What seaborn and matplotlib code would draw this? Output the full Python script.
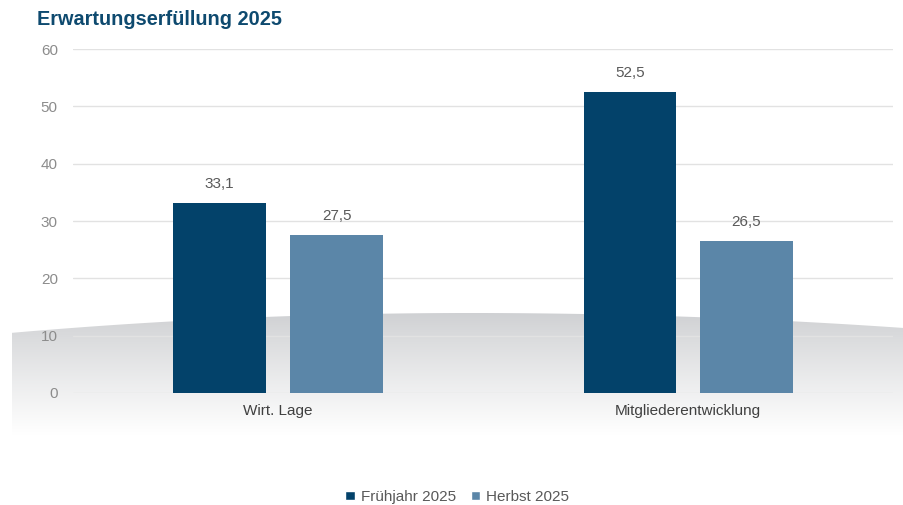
import numpy as np
import pandas as pd
import seaborn as sns
import matplotlib.pyplot as plt
from matplotlib.patches import Polygon, Patch

# data
categories = ["Wirt. Lage", "Mitgliederentwicklung"]
series = ["Frühjahr 2025", "Herbst 2025"]
fruehjahr = [33.1, 52.5]
herbst = [27.5, 26.5]
colors = ["#03426A", "#5B86A8"]

df = pd.DataFrame({
    "Kategorie": categories * 2,
    "Reihe": [series[0]] * 2 + [series[1]] * 2,
    "Wert": fruehjahr + herbst,
})

sns.set_theme(style="white")
plt.rcParams["font.family"] = ["Liberation Sans", "DejaVu Sans"]

fig = plt.figure(figsize=(9.04, 5.05), dpi=100)

# decorative grey swoosh in the background (pixel coordinates)
bg = fig.add_axes([0, 0, 1, 1], zorder=-1)
bg.set_xlim(0, 904)
bg.set_ylim(505, 0)
bg.axis("off")
grad = np.linspace(0, 1, 256).reshape(-1, 1)
top_c = np.array([0.81, 0.815, 0.825])
bot_c = np.array([1.0, 1.0, 1.0])
img = top_c + (bot_c - top_c) * grad[..., None] ** 0.9
im = bg.imshow(img, extent=[12, 904, 435, 312], aspect="auto")
xs = np.linspace(12, 904, 80)
ys = 313 + 20 * ((xs - 470) / 460) ** 2
ys = np.where(xs > 470, 313 + 15 * ((xs - 470) / 434) ** 2, ys)
poly = Polygon(np.column_stack([np.r_[xs, 904, 12], np.r_[ys, 435, 435]]),
               closed=True, transform=bg.transData)
im.set_clip_path(poly)

ax = fig.add_axes([0.0808, 0.2218, 0.9072, 0.681])
ax.patch.set_alpha(0)
sns.barplot(data=df, x="Kategorie", y="Wert", hue="Reihe", palette=colors,
            saturation=1, width=0.57, gap=0.21, linewidth=0,
            ax=ax, legend=False, zorder=3)

ax.set_ylim(0, 60)
ax.set_yticks(range(0, 61, 10))
ax.yaxis.grid(True, color="#e2e2e2", linewidth=1, zorder=0)
ax.set_axisbelow(True)
for s in ax.spines.values():
    s.set_visible(False)
ax.set_xlabel("")
ax.set_ylabel("")
ax.tick_params(axis="y", length=0, pad=11, labelsize=11, labelcolor="#8c8c8c")
ax.tick_params(axis="x", length=0, pad=8, labelsize=11, labelcolor="#404040")

for cont in ax.containers:
    ax.bar_label(cont, labels=[f"{v:.1f}".replace(".", ",") for v in cont.datavalues],
                 padding=9, fontsize=11, color="#595959")

fig.text(0.041, 0.962, "Erwartungserfüllung 2025", fontsize=14.3, fontweight="bold",
         color="#0E4A6F", va="center", ha="left")

handles = [Patch(facecolor=c, label=s) for c, s in zip(colors, series)]
fig.legend(handles=handles, loc="center", bbox_to_anchor=(0.506, 0.016),
           ncol=2, frameon=False, fontsize=11, handlelength=0.6, handleheight=0.6,
           handletextpad=0.4, columnspacing=1.0, labelcolor="#595959")

fig.savefig("out.png", dpi=100)
